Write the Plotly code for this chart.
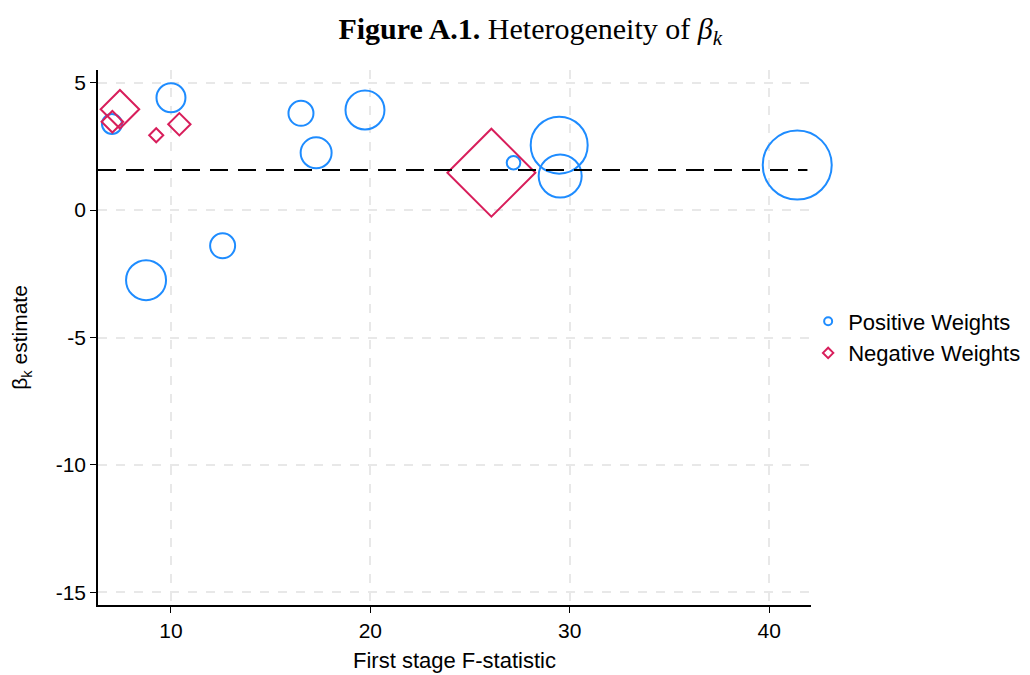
import plotly.graph_objects as go

# Positive-weight estimates
pos_f = [7.04, 10.0, 16.52, 17.28, 19.73, 12.59, 8.75, 27.18, 29.47, 29.52, 41.41]
pos_beta = [3.38, 4.41, 3.80, 2.25, 3.93, -1.40, -2.75, 1.86, 2.55, 1.34, 1.77]
pos_weight = [0.040, 0.084, 0.0625, 0.096, 0.152, 0.0625, 0.160, 0.0185, 0.325, 0.185, 0.476]

# Negative-weight estimates
neg_f = [7.44, 7.06, 9.26, 10.42, 26.07]
neg_beta = [3.96, 3.47, 2.94, 3.37, 1.47]
neg_weight = [0.088, 0.0276, 0.0117, 0.0296, 0.458]

beta_mean = 1.57

x_ticks = [10, 20, 30, 40]
y_ticks = [5, 0, -5, -10, -15]
y_ticktext = ["5", "0", "-5", "-10", "-15"]

BLUE = "#1E8CFF"
RED = "#D81E5B"
FONT = "Liberation Sans, Arial, sans-serif"

fig = go.Figure()

fig.add_trace(go.Scatter(
    x=pos_f, y=pos_beta, mode="markers", showlegend=False, cliponaxis=False,
    marker=dict(symbol="circle-open", size=pos_weight, sizemode="area", sizeref=2e-4,
                opacity=1, color=BLUE, line=dict(width=2, color=BLUE)),
))
fig.add_trace(go.Scatter(
    x=neg_f, y=neg_beta, mode="markers", showlegend=False, cliponaxis=False,
    marker=dict(symbol="diamond-open", size=neg_weight, sizemode="area", sizeref=2e-4,
                opacity=1, color=RED, line=dict(width=2, color=RED)),
))
# legend entries
fig.add_trace(go.Scatter(
    x=[None], y=[None], mode="markers", name="Positive Weights",
    marker=dict(symbol="circle-open", size=8, color=BLUE, line=dict(width=2, color=BLUE)),
))
fig.add_trace(go.Scatter(
    x=[None], y=[None], mode="markers", name="Negative Weights",
    marker=dict(symbol="diamond-open", size=8, color=RED, line=dict(width=2, color=RED)),
))

fig.add_shape(type="line", xref="x domain", yref="y", x0=0, x1=0.995,
              y0=beta_mean, y1=beta_mean,
              line=dict(color="black", width=2, dash="18px,10px"))

fig.update_layout(
    width=1030, height=675,
    margin=dict(l=90, r=227, t=62, b=78),
    paper_bgcolor="white", plot_bgcolor="white",
    font=dict(family=FONT, size=21, color="black"),
    title=dict(
        text="<b>Figure A.1.</b> Heterogeneity of <i>β</i><sub><i>k</i></sub>",
        x=0.507, xanchor="center", y=0.970, yanchor="middle",
        font=dict(family="Liberation Serif, DejaVu Serif, serif", size=30, color="black"),
    ),
    legend=dict(x=0.996, xanchor="left", y=0.5, yanchor="middle",
                font=dict(size=22), bgcolor="rgba(0,0,0,0)", itemwidth=30,
                tracegroupgap=0),
    xaxis=dict(
        range=[6.34, 42.1], tickvals=x_ticks, ticks="outside", ticklen=6,
        tickcolor="black", showline=True, linecolor="black", linewidth=1.5,
        showgrid=True, gridcolor="#E8E8E8", griddash="dash", gridwidth=1.5,
        zeroline=False, tickfont=dict(size=21), automargin=False,
        title=dict(text="First stage F-statistic", font=dict(size=22), standoff=12),
    ),
    yaxis=dict(
        range=[-15.5, 5.5], tickvals=y_ticks, ticktext=y_ticktext, ticks="outside", ticklen=6,
        tickcolor="black", showline=True, linecolor="black", linewidth=1.5,
        showgrid=True, gridcolor="#E8E8E8", griddash="dash", gridwidth=1.5,
        zeroline=False, tickfont=dict(size=21), automargin=False,
        title=dict(text="β<sub>k</sub> estimate", font=dict(size=21), standoff=22),
    ),
)

fig.write_html("out.html")
